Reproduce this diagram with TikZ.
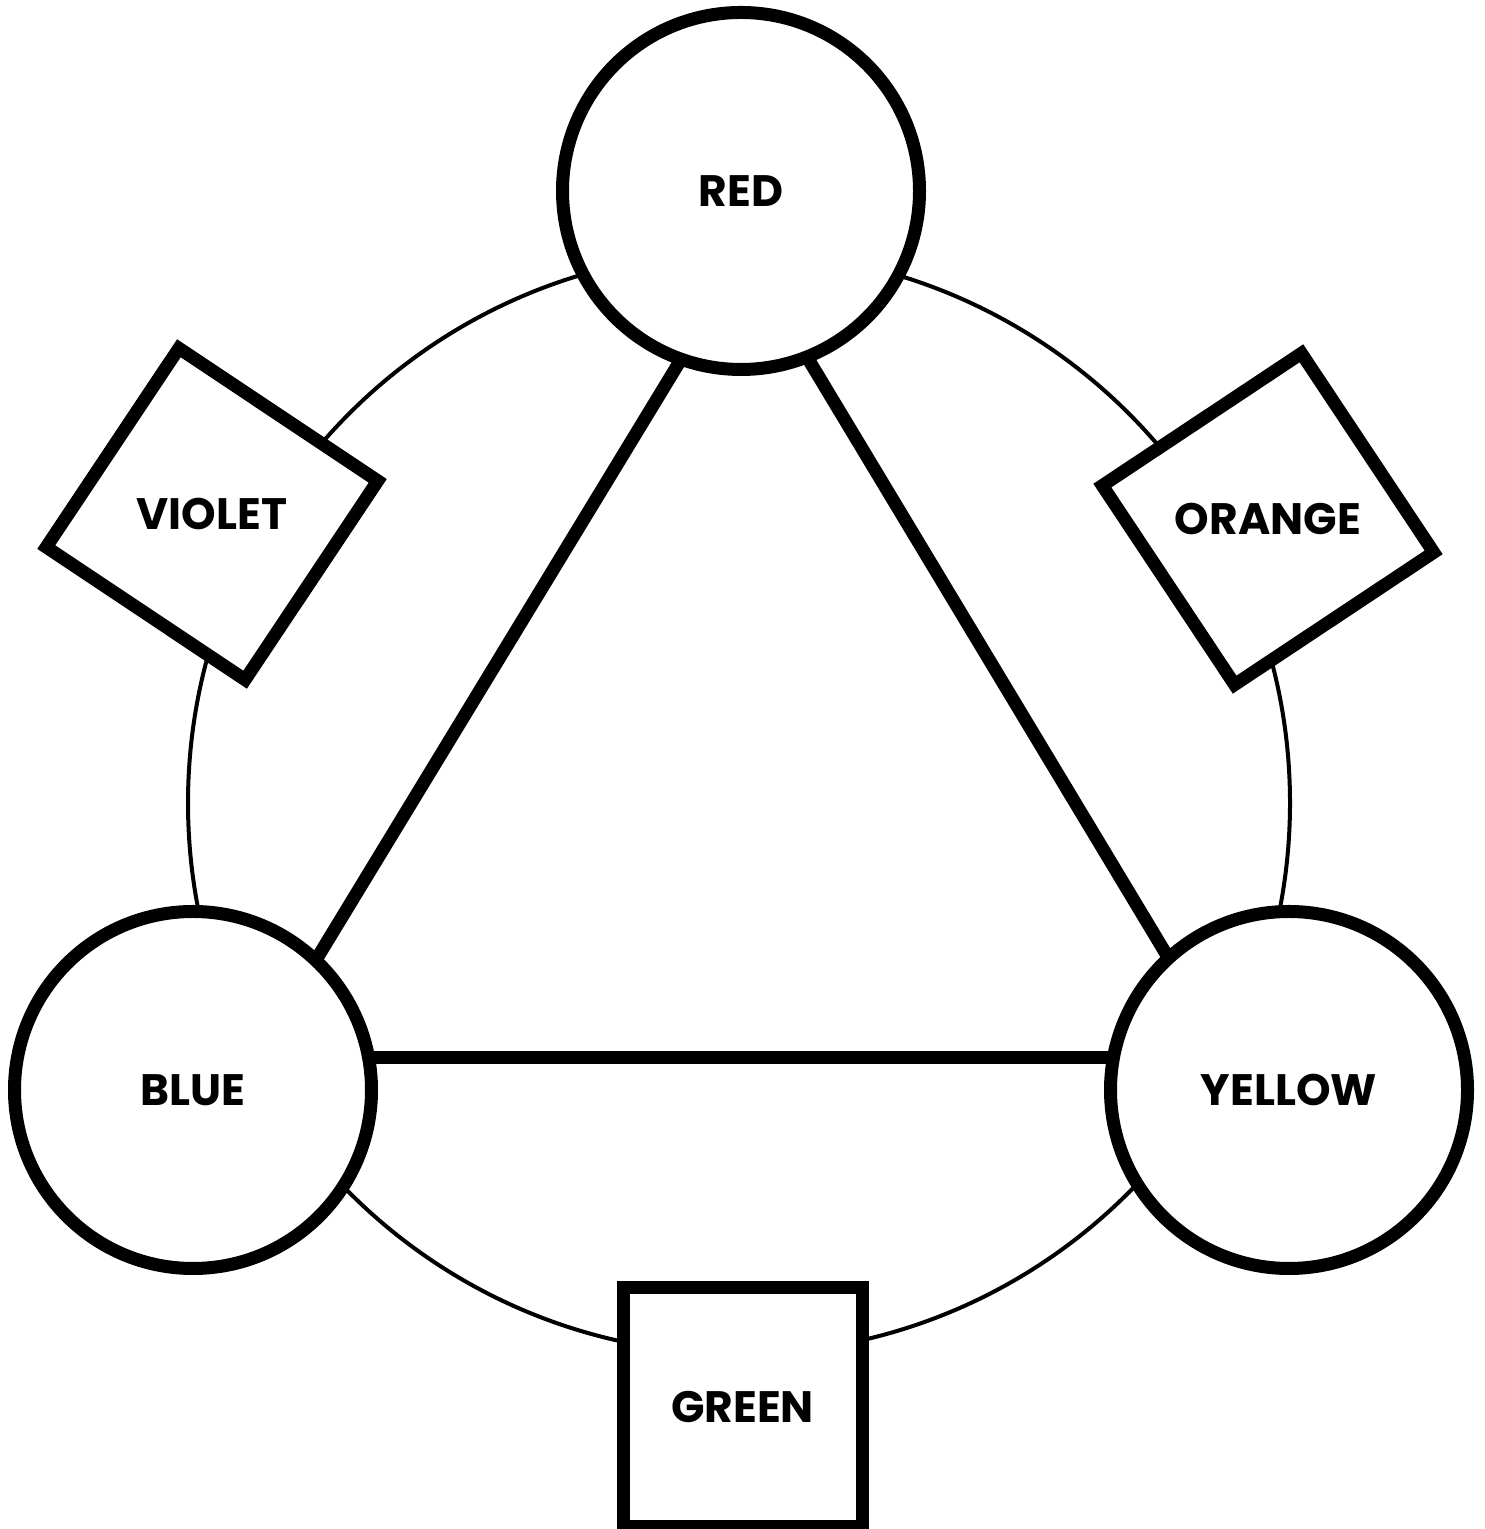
\documentclass[tikz,border=0pt]{standalone}
\usepackage{fontspec}
\setmainfont{Poppins}
\usetikzlibrary{shapes.geometric,backgrounds}

\begin{document}
\begin{tikzpicture}[x=0.5pt,y=0.5pt,
  colourtext/.style={font=\bfseries\fontsize{22}{26}\selectfont},
  primary/.style={circle,draw,line width=6.5pt,fill=white,inner sep=0pt,minimum size=178.5pt,colourtext},
  secondary/.style={regular polygon,regular polygon sides=4,draw,line width=6.5pt,fill=white,inner sep=-40pt,minimum size=169pt,colourtext},
  side/.style={line width=6.5pt,shorten <=-8pt,shorten >=-8pt}]
\useasboundingbox (0,0) rectangle (1484,1529);
% primary colours
\node[primary] (red) at (741,1338) {RED};
\node[primary] (blue) at (193,439) {BLUE};
\node[primary] (yellow) at (1289,439) {YELLOW};
% secondary colours
\node[secondary,shape border rotate=-33.7] (violet) at (212,1015) {VIOLET};
\node[secondary,shape border rotate=33.6] (orange) at (1268,1010) {ORANGE};
\node[secondary] (green) at (742.5,122) {GREEN};
\begin{scope}[on background layer]
  \draw[line width=2pt] (739,726) circle (275.5pt);
  \draw[side] (red.250) -- (blue.47);
  \draw[side] (red.292) -- (yellow.132);
  \draw[side] (blue.10) -- (yellow.170);
\end{scope}
\end{tikzpicture}
\end{document}
